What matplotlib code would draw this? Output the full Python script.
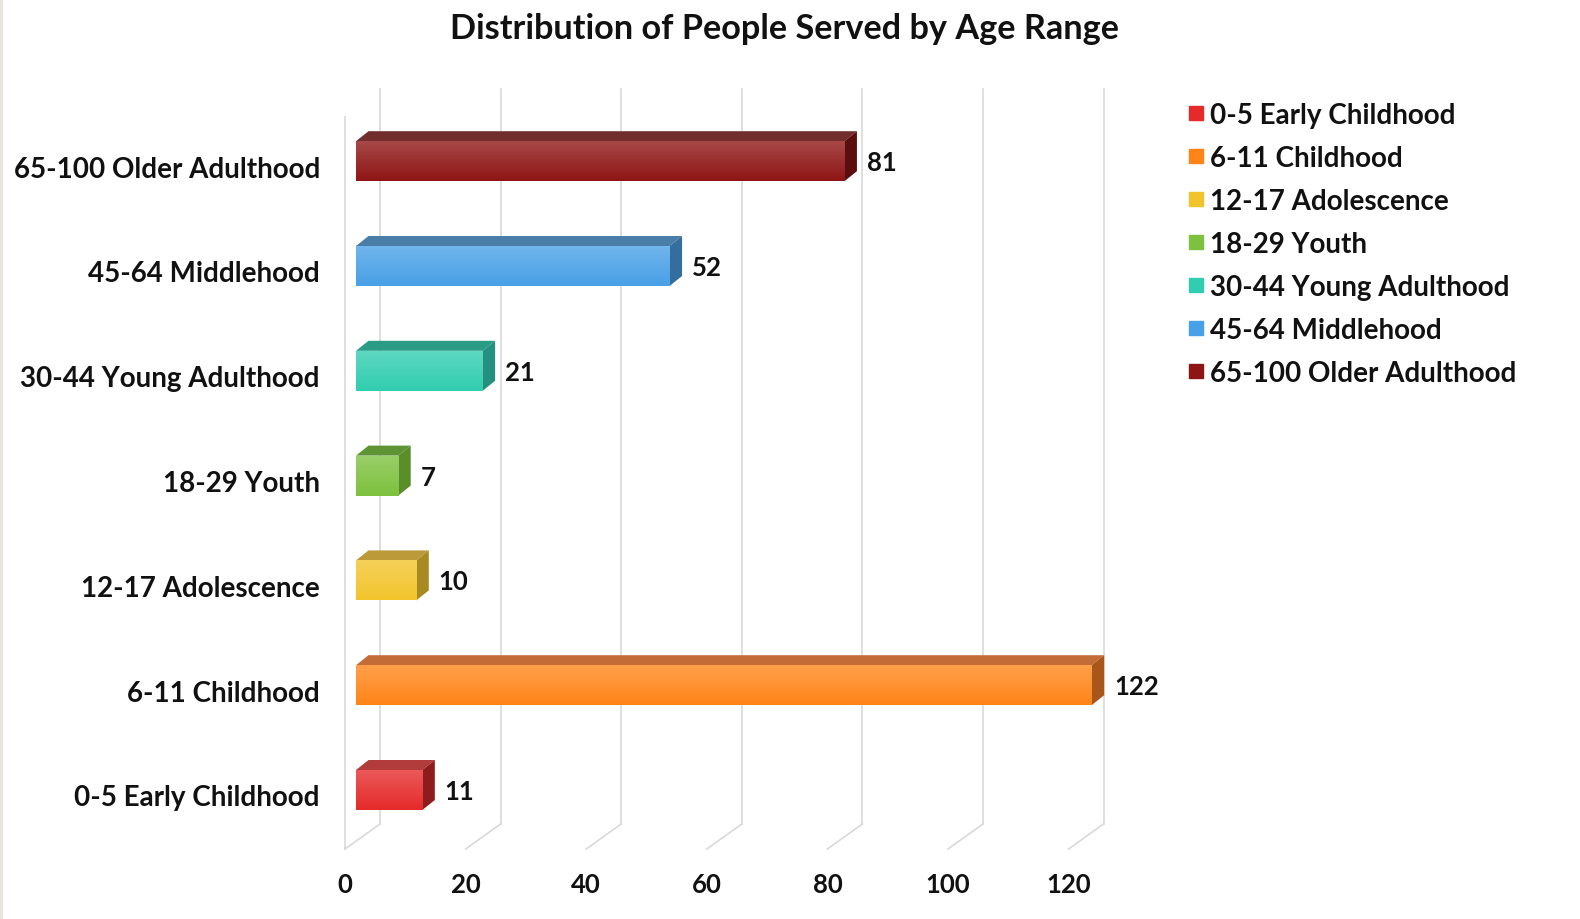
import numpy as np
import matplotlib
matplotlib.use("Agg")
import matplotlib.pyplot as plt
from matplotlib.patches import Polygon
from matplotlib.lines import Line2D
from matplotlib.colors import to_rgb

# ---- data ----
categories = ["0-5 Early Childhood", "6-11 Childhood", "12-17 Adolescence",
              "18-29 Youth", "30-44 Young Adulthood", "45-64 Middlehood",
              "65-100 Older Adulthood"]
values = [11, 122, 10, 7, 21, 52, 81]
front_colors = ["#E52A2A", "#FF8418", "#F2C42C", "#7DC13E", "#30CDB0", "#48A0E6", "#8E1515"]
top_colors = ["#B23B3B", "#C46C38", "#BC9A3A", "#5E9434", "#2A9C86", "#4A7DA8", "#722D2D"]
side_colors = ["#8E1C1C", "#A8561A", "#A88A22", "#5A8E2A", "#239080", "#336E9E", "#5A0E0E"]
xticks = [0, 20, 40, 60, 80, 100, 120]
title = "Distribution of People Served by Age Range"

FONT = "Lato"
plt.rcParams['font.family'] = [FONT, 'DejaVu Sans']

W, H = 1580, 920
fig = plt.figure(figsize=(W / 100, H / 100), dpi=100)

# pixel geometry of axes
PX0, PXS = 356.0, 6.03      # px for value 0 (bar front), px per unit
PY0, PYS = 791.0, 104.8     # px of category 0 centre, px per category
ax_l, ax_r, ax_t, ax_b = 330, 1170, 80, 870
ax = fig.add_axes([ax_l / W, (H - ax_b) / H, (ax_r - ax_l) / W, (ax_b - ax_t) / H])
xd = lambda px: (px - PX0) / PXS
yd = lambda py: (PY0 - py) / PYS
ax.set_xlim(xd(ax_l), xd(ax_r))
ax.set_ylim(yd(ax_b), yd(ax_t))
ax.axis("off")

bar_h = 40 / PYS
ddx = 12.5 / PXS
ddy = 10 / PYS
back_off = xd(380)
front_off = xd(345)
floor_back = yd(825)
floor_front = yd(850)
grid_top = yd(90)

LABEL_FS = 20
NUM_FS = 18.5
TXT_C = "#111111"

grid_c = "#D9D9D9"
for v in xticks:
    ax.plot([v + back_off, v + back_off], [floor_back, grid_top], color=grid_c, lw=1.2, zorder=1)
    ax.plot([v + front_off, v + back_off], [floor_front, floor_back], color=grid_c, lw=1.2, zorder=1)
    ax.text(v + front_off, yd(885), str(v), ha="center", va="center",
            fontsize=NUM_FS, fontweight="bold", color=TXT_C, clip_on=False)
ax.plot([front_off, front_off], [floor_front, yd(118)], color=grid_c, lw=1.2, zorder=1)

ypos = np.arange(len(categories))
for i, (cat, v) in enumerate(zip(categories, values)):
    y = ypos[i]
    fc = np.array(to_rgb(front_colors[i]))
    ax.barh(y, v, height=bar_h, left=0, color=front_colors[i], label=cat, zorder=3,
            edgecolor="none")
    # gradient on front face
    light = fc + (1 - fc) * 0.22
    grad = np.linspace(0, 1, 64)[:, None]
    img = light[None, None, :] * (1 - grad[..., None]) + fc[None, None, :] * grad[..., None]
    ax.imshow(img, extent=(0, v, y - bar_h / 2, y + bar_h / 2), aspect="auto",
              origin="upper", zorder=3.1, interpolation="bilinear")
    ytop = y + bar_h / 2
    ybot = y - bar_h / 2
    ax.add_patch(Polygon([(0, ytop), (v, ytop), (v + ddx, ytop + ddy), (ddx, ytop + ddy)],
                         closed=True, facecolor=top_colors[i], edgecolor="none", zorder=3))
    ax.add_patch(Polygon([(v, ybot), (v + ddx, ybot + ddy), (v + ddx, ytop + ddy), (v, ytop)],
                         closed=True, facecolor=side_colors[i], edgecolor="none", zorder=3))
    ax.text(v + ddx + 10 / PXS, y - 1 / PYS, str(v), ha="left", va="center",
            fontsize=NUM_FS, fontweight="bold", color=TXT_C, zorder=4)
    ax.text(xd(320), y - 7.5 / PYS, cat, ha="right", va="center",
            fontsize=LABEL_FS, fontweight="bold", color=TXT_C, clip_on=False)

fig.text(785 / W, 1 - 29 / H, title, ha="center", va="center",
         fontsize=24.7, fontweight="bold", color=TXT_C)

# legend
leg_handles = [Line2D([0], [0], marker="s", linestyle="none", markersize=10,
                      markerfacecolor=front_colors[i], markeredgecolor=front_colors[i])
               for i in range(len(categories))]
leg = fig.legend(leg_handles, categories, loc="upper left",
                 bbox_to_anchor=(1188 / W, 1 - 103 / H), frameon=False,
                 prop={"family": FONT, "weight": "bold", "size": LABEL_FS},
                 handlelength=0.6, handletextpad=0.18, labelspacing=0.61,
                 borderaxespad=0, borderpad=0)
for t in leg.get_texts():
    t.set_color(TXT_C)

# left frame line
fig.add_artist(Line2D([1 / W, 1 / W], [0, 1], color="#E6E2DE", lw=2))

fig.savefig("out.png", dpi=100)
